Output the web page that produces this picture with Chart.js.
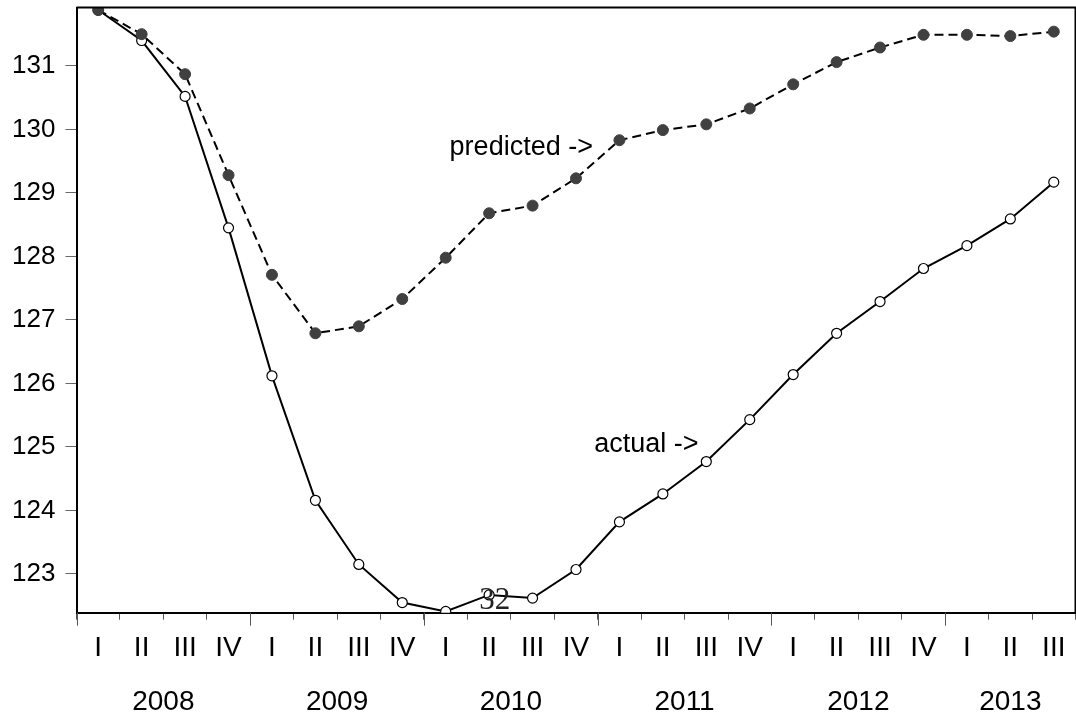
<!DOCTYPE html>
<html lang="en">
<head>
<meta charset="UTF-8">
<title>Actual vs predicted</title>
<script src="https://cdn.jsdelivr.net/npm/chart.js"></script>
<style>
    html, body { margin: 0; padding: 0; background: #fff; overflow: hidden; }
    canvas { display: block; }
</style>
</head>
<body>
<canvas id="chart" width="1082" height="717"></canvas>
<script>
    // quarterly series, 2008 Q1 .. 2013 Q3
    const quarters = ['I', 'II', 'III', 'IV', 'I', 'II', 'III', 'IV', 'I', 'II', 'III', 'IV',
                      'I', 'II', 'III', 'IV', 'I', 'II', 'III', 'IV', 'I', 'II', 'III'];
    const years = ['2008', '2009', '2010', '2011', '2012', '2013'];
    const actual = [131.88, 131.40, 130.52, 128.45, 126.12, 124.16, 123.15, 122.55,
                    122.41, 122.67, 122.62, 123.07, 123.82, 124.26, 124.77, 125.43,
                    126.14, 126.79, 127.29, 127.81, 128.17, 128.59, 129.17];
    const predicted = [131.88, 131.50, 130.87, 129.28, 127.71, 126.79, 126.90, 127.33,
                       127.98, 128.68, 128.80, 129.23, 129.83, 129.99, 130.08, 130.33,
                       130.71, 131.06, 131.29, 131.49, 131.49, 131.47, 131.54];
    const yTicks = [123, 124, 125, 126, 127, 128, 129, 130, 131];

    const SANS = '"Liberation Sans", Arial, sans-serif';
    Chart.defaults.font.family = SANS;

    // text placed in data units: category index of left edge, value of baseline
    const notes = [
        { text: 'predicted ->', i: 8.09, v: 129.605, font: '27px ' + SANS },
        { text: 'actual ->', i: 11.42, v: 124.92, font: '27px ' + SANS },
        { text: '32', i: 8.77, v: 122.455, font: '31px "Liberation Serif", "Times New Roman", serif', color: '#222' }
    ];

    const extras = {
        id: 'extras',
        afterDraw(chart) {
            const { ctx, chartArea: a, scales: { x, y } } = chart;
            ctx.save();

            // closing frame lines
            ctx.strokeStyle = '#000';
            ctx.lineWidth = 2;
            ctx.beginPath();
            ctx.moveTo(a.left, a.top);
            ctx.lineTo(a.right, a.top);
            ctx.lineTo(a.right, a.bottom);
            ctx.stroke();

            // longer ticks at each new year
            const half = (x.getPixelForValue(1) - x.getPixelForValue(0)) / 2;
            ctx.strokeStyle = '#555';
            ctx.lineWidth = 1;
            quarters.forEach((q, i) => {
                if (q !== 'I') return;
                const px = Math.round(x.getPixelForValue(i) - half) + 0.5;
                ctx.beginPath();
                ctx.moveTo(px, a.bottom);
                ctx.lineTo(px, a.bottom + 13);
                ctx.stroke();
            });

            // year labels centred under their quarters
            ctx.fillStyle = '#000';
            ctx.font = '28px ' + SANS;
            ctx.textAlign = 'center';
            ctx.textBaseline = 'alphabetic';
            let start = 0;
            years.forEach(yr => {
                let end = start;
                while (end + 1 < quarters.length && quarters[end + 1] !== 'I') end++;
                const cx = (x.getPixelForValue(start) + x.getPixelForValue(end)) / 2;
                ctx.fillText(yr, cx, a.bottom + 97);
                start = end + 1;
            });

            // series notes
            ctx.textAlign = 'left';
            notes.forEach(n => {
                ctx.font = n.font;
                ctx.fillStyle = n.color || '#000';
                ctx.fillText(n.text, x.getPixelForValue(0) + n.i * half * 2, y.getPixelForValue(n.v));
            });
            ctx.restore();
        }
    };

    new Chart(document.getElementById('chart').getContext('2d'), {
        type: 'line',
        data: {
            labels: quarters,
            datasets: [
                {
                    label: 'predicted',
                    data: predicted,
                    borderColor: '#000',
                    borderWidth: 2,
                    borderDash: [9, 5],
                    pointRadius: 5.5,
                    pointBackgroundColor: '#404040',
                    pointBorderColor: '#404040',
                    pointBorderWidth: 1,
                    tension: 0
                },
                {
                    label: 'actual',
                    data: actual,
                    borderColor: '#000',
                    borderWidth: 2,
                    pointRadius: 5,
                    pointBackgroundColor: '#fff',
                    pointBorderColor: '#000',
                    pointBorderWidth: 1.2,
                    tension: 0
                }
            ]
        },
        options: {
            responsive: false,
            animation: false,
            layout: { padding: { top: 7.5, left: 0, right: 0, bottom: 0 } },
            plugins: { legend: { display: false }, tooltip: { enabled: false } },
            scales: {
                x: {
                    offset: true,
                    ticks: { font: { size: 28 }, color: '#000', padding: 12, autoSkip: false, maxRotation: 0 },
                    grid: { offset: true, drawOnChartArea: false, drawTicks: true, tickLength: 7, color: '#555' },
                    border: { display: true, color: '#000', width: 2 },
                    afterFit: s => { s.height = 104.3; s.paddingLeft = 0; s.paddingRight = 0; }
                },
                y: {
                    min: 122.39,
                    max: 131.92,
                    afterBuildTicks: s => { s.ticks = yTicks.map(v => ({ value: v })); },
                    ticks: { font: { size: 26 }, color: '#000', padding: 10 },
                    grid: { drawOnChartArea: false, drawTicks: true, tickLength: 11, color: '#666' },
                    border: { display: true, color: '#000', width: 2 },
                    afterFit: s => { s.width = 76.5; s.paddingTop = 0; s.paddingBottom = 0; }
                }
            }
        },
        plugins: [extras]
    });
</script>
</body>
</html>
